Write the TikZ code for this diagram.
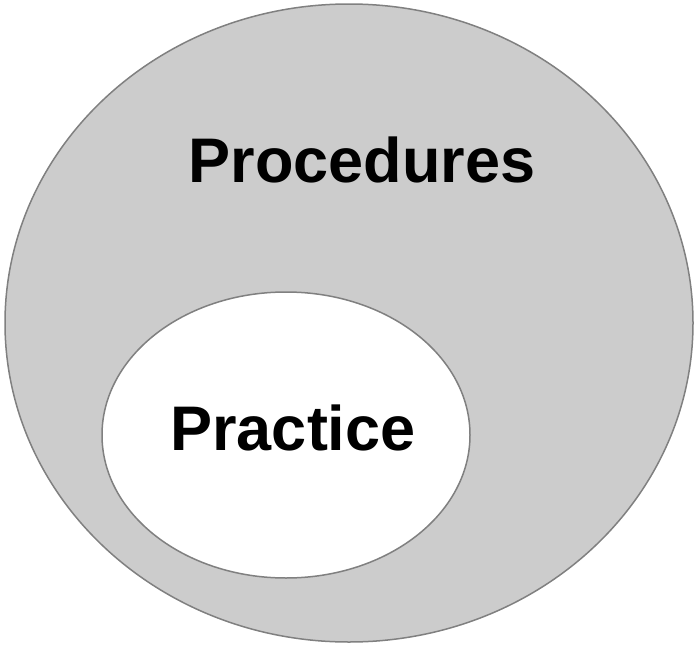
\documentclass[tikz,border=0pt]{standalone}
\usepackage{fontspec}
\setmainfont{Liberation Sans}
\usetikzlibrary{shapes.geometric}
\begin{document}
\begin{tikzpicture}[x=1pt,y=-1pt,
  blob/.style={draw=black!50,line width=1.5pt,ellipse,inner sep=0pt},
  lbl/.style={font=\fontsize{63}{70}\selectfont\bfseries,inner sep=0pt}]
\useasboundingbox (0,0) rectangle (696,645);
\node[blob,fill=black!20,minimum width=688pt,minimum height=638pt] (outer) at (349,323) {};
\node[blob,fill=white,minimum width=368pt,minimum height=286pt] (inner) at (286,435) {};
\node[lbl] (proc) at (362,160) {Procedures};
\node[lbl] (prac) at (293,428) {Practice};
\end{tikzpicture}
\end{document}
